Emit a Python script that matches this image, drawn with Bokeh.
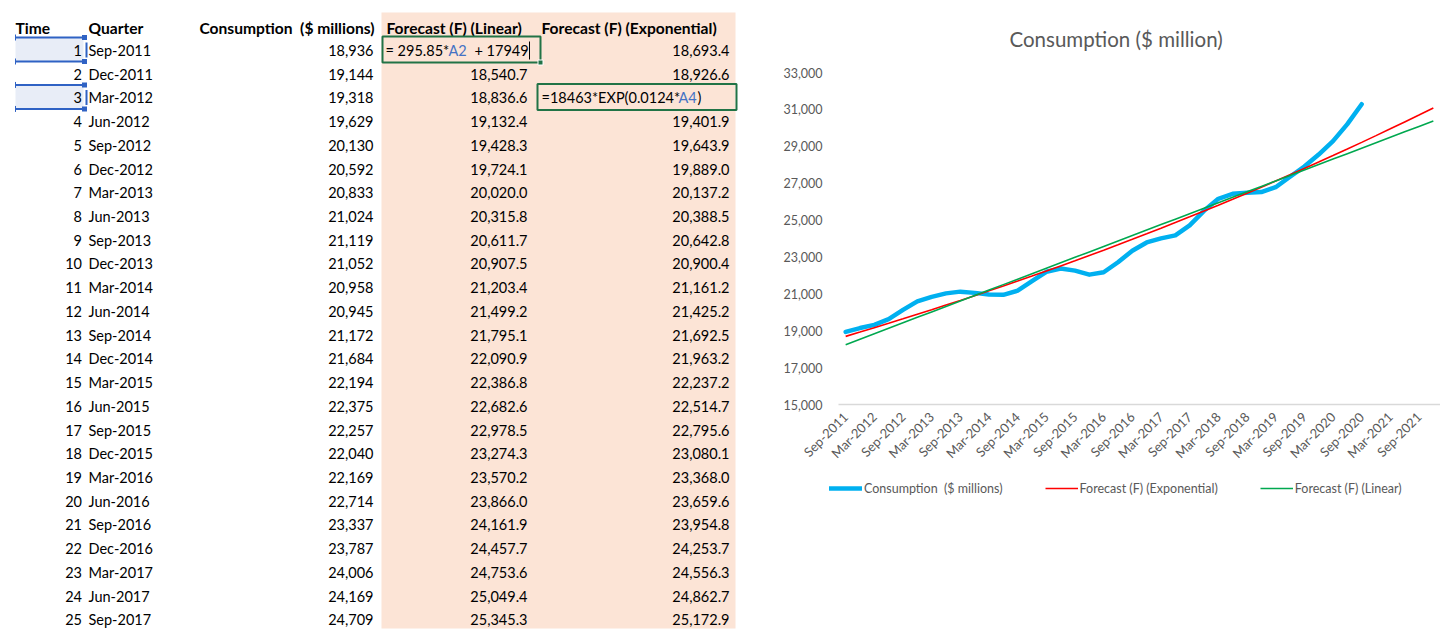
import math
from bokeh.plotting import figure
from bokeh.models import (Range1d, FixedTicker, NumeralTickFormatter, Legend, LegendItem, Title)
from bokeh.layouts import row, column
from bokeh.embed import file_html
from bokeh.resources import INLINE
from bokeh.core.properties import value

# ---------------- data ----------------
time_idx = list(range(1, 43))
quarters = ["Sep-2011", "Dec-2011", "Mar-2012", "Jun-2012", "Sep-2012", "Dec-2012",
            "Mar-2013", "Jun-2013", "Sep-2013", "Dec-2013", "Mar-2014", "Jun-2014",
            "Sep-2014", "Dec-2014", "Mar-2015", "Jun-2015", "Sep-2015", "Dec-2015",
            "Mar-2016", "Jun-2016", "Sep-2016", "Dec-2016", "Mar-2017", "Jun-2017",
            "Sep-2017", "Dec-2017", "Mar-2018", "Jun-2018", "Sep-2018", "Dec-2018",
            "Mar-2019", "Jun-2019", "Sep-2019", "Dec-2019", "Mar-2020", "Jun-2020",
            "Sep-2020", "Dec-2020", "Mar-2021", "Jun-2021", "Sep-2021", "Dec-2021"]
consumption = [18936, 19144, 19318, 19629, 20130, 20592, 20833, 21024, 21119, 21052,
               20958, 20945, 21172, 21684, 22194, 22375, 22257, 22040, 22169, 22714,
               23337, 23787, 24006, 24169, 24709, 25500, 26150, 26420, 26480, 26520,
               26780, 27350, 27900, 28550, 29280, 30200, 31280]
forecast_linear = [18244.9, 18540.7, 18836.6, 19132.4, 19428.3, 19724.1, 20020.0, 20315.8,
                   20611.7, 20907.5, 21203.4, 21499.2, 21795.1, 22090.9, 22386.8, 22682.6,
                   22978.5, 23274.3, 23570.2, 23866.0, 24161.9, 24457.7, 24753.6, 25049.4,
                   25345.3, 25641.1, 25937.0, 26232.8, 26528.7, 26824.5, 27120.4, 27416.2,
                   27712.1, 28007.9, 28303.8, 28599.6, 28895.5, 29191.3, 29487.2, 29783.0,
                   30078.9, 30374.7]
forecast_exp = [18693.4, 18926.6, 19162.8, 19401.9, 19643.9, 19889.0, 20137.2, 20388.5,
                20642.8, 20900.4, 21161.2, 21425.2, 21692.5, 21963.2, 22237.2, 22514.7,
                22795.6, 23080.1, 23368.0, 23659.6, 23954.8, 24253.7, 24556.3, 24862.7,
                25172.9, 25487.0, 25805.0, 26127.0, 26453.0, 26783.1, 27117.3, 27455.6,
                27798.2, 28145.0, 28496.2, 28851.8, 29211.8, 29576.3, 29945.3, 30318.9,
                30697.2, 31080.2]
table_rows = 25
headers = ["Time", "Quarter", "Consumption \u00a0($ millions)", "Forecast (F) (Linear)",
           "Forecast (F) (Exponential)"]
series_names = ["Consumption \u00a0($ millions)", "Forecast (F) (Exponential)", "Forecast (F) (Linear)"]
y_ticks = [15000, 17000, 19000, 21000, 23000, 25000, 27000, 29000, 31000, 33000]

FONT = "Lato"
TFS = "14.5px"
HFS = "15.6px"
PAGE_H = 632

# ---------------- table (spreadsheet) ----------------
TW = 740
tp = figure(width=TW, height=PAGE_H, x_range=Range1d(0, TW), y_range=Range1d(PAGE_H, 0),
            output_backend="svg", toolbar_location=None, x_axis_type=None,
            y_axis_type=None, min_border=0)
tp.frame_align = False
tp.grid.visible = False
tp.outline_line_color = None

tp.quad(left=[381], right=[735], top=[12], bottom=[628], fill_color="#FCE4D6", line_color=None)

row_y = [50 + i * 23.72 for i in range(table_rows)]
hdr_y = 27.3

# selected (referenced) cells A2 and A4
sel_rows = [0, 2]
sel_top = [row_y[i] - 13 for i in sel_rows]
sel_bot = [row_y[i] + 11 for i in sel_rows]
tp.quad(left=[15, 15], right=[83, 83], top=sel_top, bottom=sel_bot, fill_color="#E8EDF7", line_color=None)
blue = "#2F62C4"
for t, b in zip(sel_top, sel_bot):
    tp.segment(x0=[15, 15], y0=[t, b], x1=[84, 84], y1=[t, b], line_color=blue, line_width=2)
    tp.segment(x0=[86], y0=[t + 5], x1=[86], y1=[b - 4], line_color=blue, line_width=2)
    tp.segment(x0=[15, 15], y0=[t - 3, b - 3], x1=[15, 15], y1=[t + 3, b + 3], line_color=blue, line_width=1)
    tp.rect(x=[84, 84], y=[t, b], width=5, height=5, fill_color=blue, line_color=None)

common = dict(text_font=value(FONT), text_font_size=TFS, text_baseline="middle", text_color="#000000")
hcommon = dict(text_font=value(FONT), text_font_size=HFS, text_baseline="middle",
               text_color="#000000", text_font_style="bold")
# headers
tp.text(x=[15, 88], y=[hdr_y, hdr_y], text=headers[:2], text_align="left", **hcommon)
tp.text(x=[374], y=[hdr_y], text=[headers[2]], text_align="right", **hcommon)
tp.text(x=[386, 541], y=[hdr_y, hdr_y], text=headers[3:], text_align="left", **hcommon)

n = table_rows
tp.text(x=[81.5] * n, y=row_y, text=[str(t) for t in time_idx[:n]], text_align="right", **common)
tp.text(x=[88] * n, y=row_y, text=quarters[:n], text_align="left", **common)
tp.text(x=[373] * n, y=row_y, text=[f"{v:,.0f}" for v in consumption[:n]], text_align="right", **common)
lin_txt = [f"{v:,.1f}" for v in forecast_linear[:n]]
exp_txt = [f"{v:,.1f}" for v in forecast_exp[:n]]
lin_txt[0] = ""
exp_txt[2] = ""
tp.text(x=[527] * n, y=row_y, text=lin_txt, text_align="right", **common)
tp.text(x=[729] * n, y=row_y, text=exp_txt, text_align="right", **common)

# formula being edited in cells
green = "#217346"
tp.quad(left=[382, 537], right=[540, 736], top=[row_y[0] - 14, row_y[2] - 14],
        bottom=[row_y[0] + 12, row_y[2] + 12], fill_color=None, line_color=green, line_width=2)
tp.rect(x=[540], y=[row_y[0] + 12], width=5, height=5, fill_color=green, line_color="white")
ref_blue = "#4472C4"
tp.text(x=[385, 474], y=[row_y[0]] * 2, text=["= 295.85*", "+ 17949"], text_align="left", **common)
tp.text(x=[448], y=[row_y[0]], text=["A2"], text_align="left",
        text_font=value(FONT), text_font_size=TFS, text_baseline="middle", text_color=ref_blue)
tp.segment(x0=[529], y0=[row_y[0] - 9], x1=[529], y1=[row_y[0] + 9], line_color="black", line_width=1)
tp.text(x=[541, 697], y=[row_y[2]] * 2, text=["=18463*EXP(0.0124*", ")"], text_align="left", **common)
tp.text(x=[678], y=[row_y[2]], text=["A4"], text_align="left",
        text_font=value(FONT), text_font_size=TFS, text_baseline="middle", text_color=ref_blue)

# ---------------- chart ----------------
GREY = "#595959"
CW = 700
CH = 470
cp = figure(width=CW, height=CH, x_range=Range1d(0.5, 42.5),
            y_range=Range1d(15000, 33000), output_backend="svg", toolbar_location=None,
            min_border_left=98, min_border_right=0, min_border_top=72,
            min_border_bottom=CH - 72 - 332)
cp.frame_align = False
cp.title = Title(text="Consumption ($ million)", align="left", text_font=FONT,
                 text_font_size="20.5px", text_font_style="normal", text_color=GREY,
                 standoff=43, offset=171)
cp.xgrid.visible = False
cp.ygrid.visible = False
cp.outline_line_color = None

blue_style = dict(line_width=4.5, line_color="#00B0F0", line_cap="round", line_join="round")
red_style = dict(line_width=1.6, line_color="#FF0000")
green_style = dict(line_width=1.6, line_color="#00A84F")
cp.line(time_idx[:len(consumption)], consumption, **blue_style)
cp.line(time_idx, forecast_exp, **red_style)
cp.line(time_idx, forecast_linear, **green_style)

cp.xaxis.ticker = FixedTicker(ticks=time_idx[::2])
cp.xaxis.major_label_overrides = {t: q for t, q in zip(time_idx, quarters)}
cp.xaxis.major_label_orientation = math.pi / 4
cp.xaxis.axis_line_color = "#D9D9D9"
cp.xaxis.axis_line_width = 1.3
cp.xaxis.major_label_standoff = 10

cp.yaxis.ticker = FixedTicker(ticks=y_ticks)
cp.yaxis.formatter = NumeralTickFormatter(format="0,0")
cp.yaxis.axis_line_color = None
cp.yaxis.major_label_standoff = 16

for ax in (cp.xaxis[0], cp.yaxis[0]):
    ax.major_tick_line_color = None
    ax.minor_tick_line_color = None
    ax.major_tick_out = 0
    ax.major_label_text_color = GREY
    ax.major_label_text_font = FONT
ax_fs = {"x": "13px", "y": "12.5px"}
cp.xaxis.major_label_text_font_size = ax_fs["x"]
cp.yaxis.major_label_text_font_size = ax_fs["y"]

# ---------------- legend strip below the chart ----------------
LH = 50
lp = figure(width=CW, height=LH, x_range=Range1d(0, 1), y_range=Range1d(0, 1),
            output_backend="svg", toolbar_location=None, x_axis_type=None,
            y_axis_type=None, min_border=0)
lp.frame_align = False
lp.grid.visible = False
lp.outline_line_color = None
# legend-only handles: placed outside this strip's visible range so only their key shows
hidden_x, hidden_y = [-5, -4], [-5, -5]
lr_blue = lp.line(x=hidden_x, y=hidden_y, **blue_style)
lr_red = lp.line(x=hidden_x, y=hidden_y, **red_style)
lr_green = lp.line(x=hidden_x, y=hidden_y, **green_style)
legend = Legend(items=[LegendItem(label=series_names[0], renderers=[lr_blue]),
                       LegendItem(label=series_names[1], renderers=[lr_red]),
                       LegendItem(label=series_names[2], renderers=[lr_green])],
                orientation="horizontal", location=(89, 22), label_text_font=FONT,
                label_text_font_size="12.5px", label_text_color=GREY, glyph_width=33,
                label_standoff=2, spacing=42, border_line_color=None,
                background_fill_alpha=0, margin=0, padding=4)
lp.add_layout(legend, "center")

layout = row(tp, column(cp, lp))
open("out.html", "w").write(file_html(layout, INLINE))
